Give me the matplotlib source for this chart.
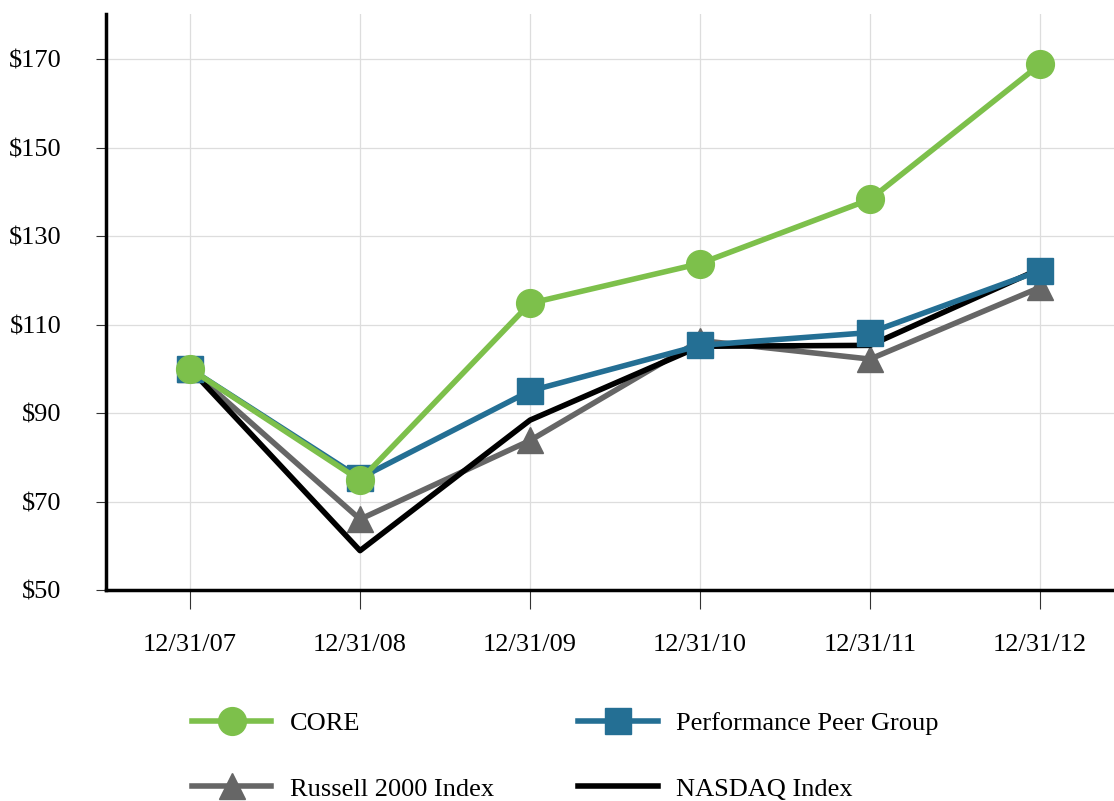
import matplotlib.pyplot as plt
import numpy as np

# Datos
fechas = ['12/31/07', '12/31/08', '12/31/09', '12/31/10', '12/31/11', '12/31/12']
core = [100, 74.8, 114.8, 123.8, 138.3, 168.8]
peer = [100, 75.3, 95.0, 105.3, 108.2, 122.2]
russell = [100, 66.0, 83.8, 106.4, 102.2, 118.4]
nasdaq = [100, 58.9, 88.4, 105.1, 105.3, 122.6]

plt.rcParams['font.family'] = ['Liberation Serif', 'DejaVu Serif']

fig = plt.figure(figsize=(11.14, 8.01), dpi=100)
ax = fig.add_axes([0.0952, 0.2634, 0.9048, 0.7191])

x = np.arange(len(fechas))
verde = '#7dc04b'
azul = '#246f94'
gris = '#666666'

ax.plot(x, russell, '-^', color=gris, lw=4, ms=19, label='Russell 2000 Index', zorder=3)
ax.plot(x, nasdaq, '-', color='black', lw=4, label='NASDAQ Index', zorder=4)
ax.plot(x, peer, '-s', color=azul, lw=4, ms=19, label='Performance Peer Group', zorder=5)
ax.plot(x, core, '-o', color=verde, lw=4, ms=20, label='CORE', zorder=6)

ax.set_xlim(-0.494, 5.435)
ax.set_ylim(50, 180.2)
ax.set_yticks(range(50, 171, 20))
ax.set_yticklabels([f'${v}' for v in range(50, 171, 20)])
ax.set_xticks(x)
ax.set_xticklabels(fechas)
ax.tick_params(axis='both', labelsize=19, color='#333333')
ax.tick_params(axis='x', length=14, width=0.8, pad=18)
ax.tick_params(axis='y', length=7, width=0.8, pad=25)
ax.grid(color='#dddddd', linewidth=0.9)
ax.set_axisbelow(True)

for lado in ['top', 'right']:
    ax.spines[lado].set_visible(False)
ax.spines['left'].set_linewidth(2.5)
ax.spines['bottom'].set_linewidth(2.5)

# orden de la leyenda (por columnas): CORE, Russell | Peer, NASDAQ
handles, labels = ax.get_legend_handles_labels()
orden = [3, 0, 2, 1]
fig.legend([handles[i] for i in orden], [labels[i] for i in orden],
           ncol=2, loc='upper left', bbox_to_anchor=(0.163, 0.125),
           frameon=False, fontsize=19, handlelength=3.0, handletextpad=0.7,
           columnspacing=3.2, labelspacing=1.6, borderaxespad=0)

plt.savefig('out.png', dpi=100)
